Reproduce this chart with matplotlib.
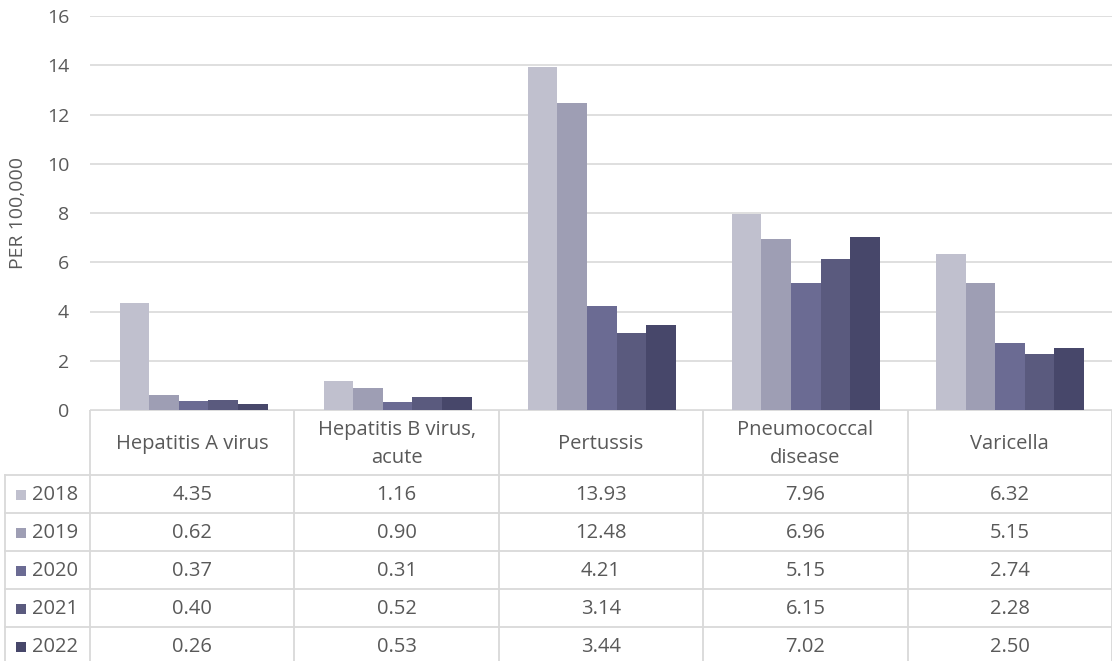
import matplotlib.pyplot as plt
from matplotlib.patches import Rectangle
import numpy as np

plt.rcParams['font.family'] = ['Open Sans', 'DejaVu Sans']

categories = ['Hepatitis A virus', 'Hepatitis B virus,\nacute', 'Pertussis',
              'Pneumococcal\ndisease', 'Varicella']
years = ['2018', '2019', '2020', '2021', '2022']
v2018 = [4.35, 1.16, 13.93, 7.96, 6.32]
v2019 = [0.62, 0.90, 12.48, 6.96, 5.15]
v2020 = [0.37, 0.31, 4.21, 5.15, 2.74]
v2021 = [0.40, 0.52, 3.14, 6.15, 2.28]
v2022 = [0.26, 0.53, 3.44, 7.02, 2.50]
series = [v2018, v2019, v2020, v2021, v2022]
colors = ['#c0c0ce', '#9e9eb4', '#6b6b93', '#5a5a7e', '#47476a']

txt = '#595959'
grid = '#d9d9d9'
W, H = 1112, 661
fs = 14.5

fig = plt.figure(figsize=(W / 100, H / 100), dpi=100)

# chart area in pixels
left, right, top, base = 90, 1112, 16, 410
ax = fig.add_axes([left / W, (H - base) / H, (right - left) / W, (base - top) / H])

x = np.arange(len(categories))
bw = 0.145
for i, (vals, c) in enumerate(zip(series, colors)):
    ax.bar(x + (i - 2) * bw, vals, width=bw, color=c, zorder=3)

ax.set_ylim(0, 16)
ax.set_yticks(range(0, 17, 2))
ax.yaxis.grid(True, color=grid, linewidth=1.2, zorder=0)
ax.set_xticks([])
for s in ax.spines.values():
    s.set_visible(False)
ax.tick_params(axis='y', length=0, pad=15, labelsize=14, labelcolor=txt)
ax.set_ylabel('PER 100,000', fontsize=14, color=txt)
ax.yaxis.set_label_coords(-63 / (right - left), 0.5)
# extend gridlines a little left of the plot
ax.set_xlim(-0.5 - 1.5 / 204.4, len(categories) - 0.5)

# table below the chart
unit = (right - left) / len(categories)
tab = fig.add_axes([0, 0, 1, (H - base) / H])
tab.set_xlim(-0.5 - left / unit, len(categories) - 0.5 + (W - right) / unit)
tab.set_ylim(H - base, 0)
tab.axis('off')

head_h, row_h = 65, 38
outer = -0.5 - 85 / unit
bottom = head_h + row_h * len(years) + 5
lw = 1.3

tab.plot([-0.5, len(categories) - 0.5], [0, 0], color=grid, lw=lw)
for k in range(len(categories) + 1):
    tab.plot([k - 0.5, k - 0.5], [0, bottom], color=grid, lw=lw)
tab.plot([outer, outer], [head_h, bottom], color=grid, lw=lw)
for r in range(len(years)):
    y = head_h + row_h * r
    tab.plot([outer, len(categories) - 0.5], [y, y], color=grid, lw=lw)

for k, cat in enumerate(categories):
    tab.text(k, 34, cat, ha='center', va='center', fontsize=fs,
             color=txt, linespacing=1.5)

for r, (yr, vals, c) in enumerate(zip(years, series, colors)):
    yc = head_h + row_h * r + row_h / 2
    sq = 10
    tab.add_patch(Rectangle((outer + 11 / unit, yc - sq / 2 + 1), sq / unit, sq,
                            color=c, lw=0))
    tab.text(outer + 27 / unit, yc + 1.5, yr, ha='left', va='center',
             fontsize=fs, color=txt)
    for k, v in enumerate(vals):
        tab.text(k, yc + 1.5, f'{v:.2f}', ha='center', va='center',
                 fontsize=fs, color=txt)

fig.savefig('out.png', dpi=100)
